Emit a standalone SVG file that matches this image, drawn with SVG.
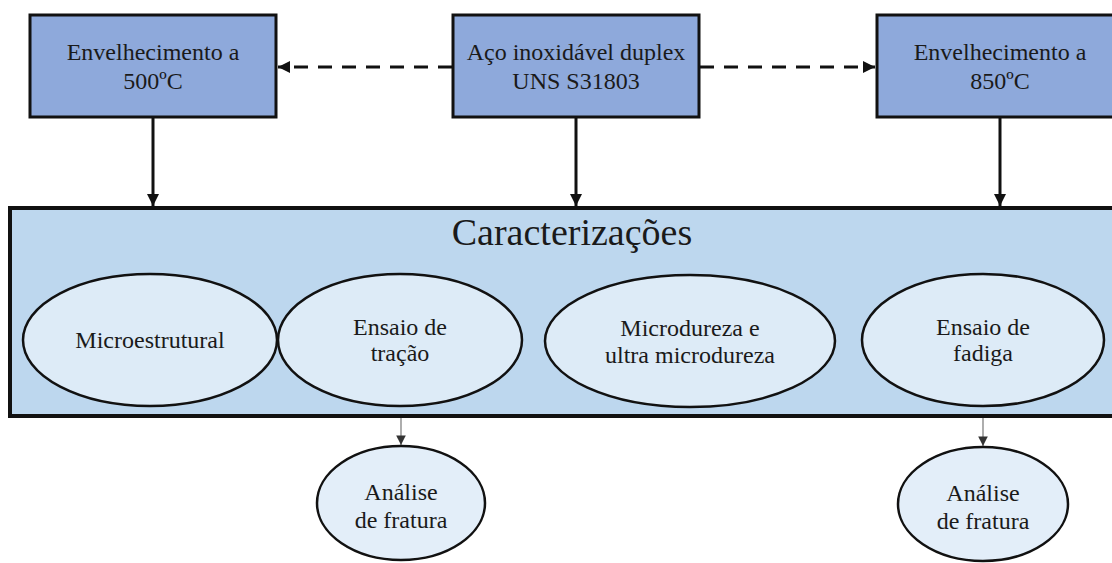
<svg xmlns="http://www.w3.org/2000/svg" width="1112" height="563" viewBox="0 0 1112 563">
<defs>
<style>
.box{fill:#8EA9DB;stroke:#111;stroke-width:3}
.big{fill:#BDD7EE;stroke:#111;stroke-width:4}
.ell{fill:#DDEBF7;stroke:#111;stroke-width:2.5}
.ell2{fill:#E3EEF9;stroke:#111;stroke-width:2.5}
text{font-family:'Liberation Serif',serif;fill:#1a1a1a;text-anchor:middle}
.t{font-size:24px}
.title{font-size:38px}
.thick{stroke:#111;stroke-width:3;fill:none}
.dash{stroke:#111;stroke-width:3;fill:none;stroke-dasharray:14 10}
.thin{stroke:#777;stroke-width:1.2;fill:none}
</style>
<marker id="ah" viewBox="0 0 10 10" refX="10" refY="5" markerWidth="4" markerHeight="4" orient="auto" markerUnits="strokeWidth">
<path d="M0,0 L10,5 L0,10 z" fill="#111"/>
</marker>
<marker id="ahs" viewBox="0 0 10 10" refX="10" refY="5" markerWidth="8" markerHeight="8" orient="auto" markerUnits="strokeWidth">
<path d="M0,0 L10,5 L0,10 z" fill="#333"/>
</marker>
</defs>
<rect width="1112" height="563" fill="#fff"/>

<g id="connectors">
<line class="dash" x1="452" y1="67" x2="278" y2="67" marker-end="url(#ah)"/>
<line class="dash" x1="700" y1="67" x2="875" y2="67" marker-end="url(#ah)"/>
<line class="thick" x1="153" y1="117" x2="153" y2="206" marker-end="url(#ah)"/>
<line class="thick" x1="576" y1="117" x2="576" y2="206" marker-end="url(#ah)"/>
<line class="thick" x1="1000" y1="117" x2="1000" y2="206" marker-end="url(#ah)"/>
<line class="thin" x1="401" y1="407" x2="401" y2="445" marker-end="url(#ahs)"/>
<line class="thin" x1="983" y1="407" x2="983" y2="446" marker-end="url(#ahs)"/>
</g>

<g font-family="Liberation Serif, serif">
<g id="n-caracterizacoes">
<rect class="big" x="10" y="208" width="1110" height="208"/>
<text class="title" x="572" y="245">Caracterizações</text>
</g>

<g id="n-500">
<rect class="box" x="30" y="15" width="246" height="102"/>
<text class="t" x="153" y="60">Envelhecimento a</text>
<text class="t" x="153" y="89">500ºC</text>
</g>
<g id="n-aco">
<rect class="box" x="453" y="15" width="246" height="102"/>
<text class="t" x="576" y="60">Aço inoxidável duplex</text>
<text class="t" x="576" y="89">UNS S31803</text>
</g>
<g id="n-850">
<rect class="box" x="877" y="15" width="246" height="102"/>
<text class="t" x="1000" y="60">Envelhecimento a</text>
<text class="t" x="1000" y="89">850ºC</text>
</g>

<g id="n-micro">
<ellipse class="ell" cx="150" cy="340" rx="127" ry="66"/>
<text class="t" x="150" y="348">Microestrutural</text>
</g>
<g id="n-tracao">
<ellipse class="ell" cx="400" cy="340" rx="122" ry="66"/>
<text class="t" x="400" y="335">Ensaio de</text>
<text class="t" x="400" y="361">tração</text>
</g>
<g id="n-microdureza">
<ellipse class="ell" cx="690" cy="341" rx="145" ry="66"/>
<text class="t" x="690" y="336">Microdureza e</text>
<text class="t" x="690" y="363">ultra microdureza</text>
</g>
<g id="n-fadiga">
<ellipse class="ell" cx="983" cy="340" rx="121" ry="66"/>
<text class="t" x="983" y="335">Ensaio de</text>
<text class="t" x="983" y="361">fadiga</text>
</g>

<g id="n-analise1">
<ellipse class="ell2" cx="401" cy="503" rx="84" ry="57"/>
<text class="t" x="401" y="500">Análise</text>
<text class="t" x="401" y="528">de fratura</text>
</g>
<g id="n-analise2">
<ellipse class="ell2" cx="983" cy="504" rx="85" ry="57"/>
<text class="t" x="983" y="501">Análise</text>
<text class="t" x="983" y="529">de fratura</text>
</g>
</g>
</svg>
